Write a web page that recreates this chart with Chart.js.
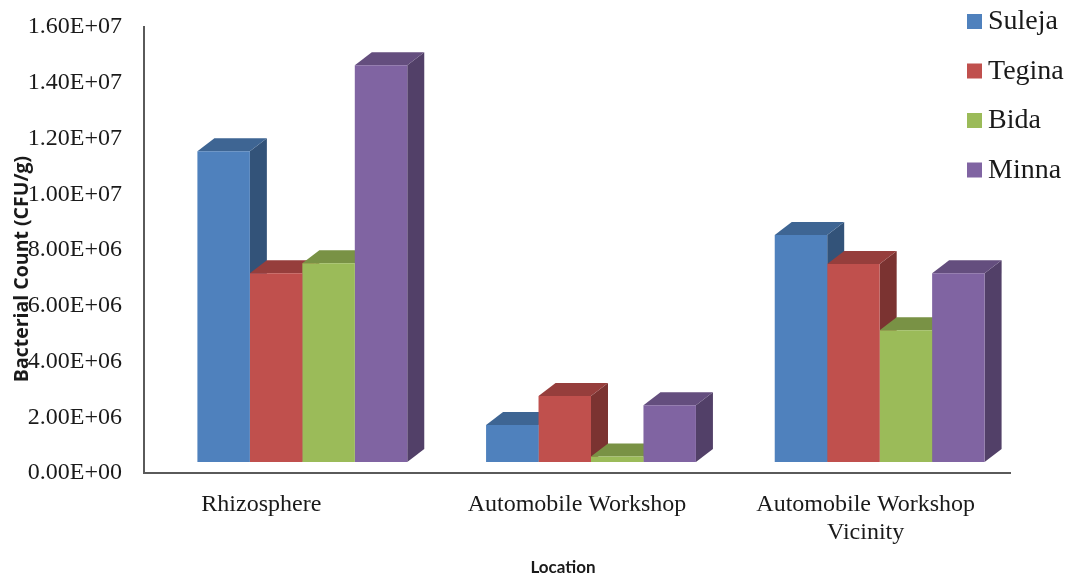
<!DOCTYPE html>
<html>
<head>
<meta charset="utf-8">
<script src="https://cdn.jsdelivr.net/npm/chart.js@4.4.1/dist/chart.umd.min.js"></script>
<style>
  html, body { margin: 0; padding: 0; background: #ffffff; }
  #wrap { width: 1076px; height: 581px; }
</style>
</head>
<body>
<div id="wrap"><canvas id="chart" width="1076" height="581"></canvas></div>
<script>
// Bacterial counts (CFU/g) by sampling location and town
const categories = ['Rhizosphere         ', 'Automobile Workshop', ['Automobile Workshop', 'Vicinity']];
const towns = ['Suleja', 'Tegina', 'Bida', 'Minna'];
const suleja = [1.115e7, 1.33e6, 8.14e6];
const tegina = [6.77e6, 2.37e6, 7.10e6];
const bida   = [7.13e6, 0.20e6, 4.73e6];
const minna  = [1.423e7, 2.04e6, 6.77e6];
const yTicks = [0, 2e6, 4e6, 6e6, 8e6, 1e7, 1.2e7, 1.4e7, 1.6e7];

const seriesValues = [suleja, tegina, bida, minna];
const frontColors = ['#4F81BD', '#C0504D', '#9BBB59', '#8064A2'];

function shade(hex, f) {
  const n = parseInt(hex.slice(1), 16);
  const r = Math.round(((n >> 16) & 255) * f);
  const g = Math.round(((n >> 8) & 255) * f);
  const b = Math.round((n & 255) * f);
  return 'rgb(' + r + ',' + g + ',' + b + ')';
}

function sci(v) {
  if (v === 0) return '0.00E+00';
  const e = Math.floor(Math.log10(v) + 1e-9);
  const m = v / Math.pow(10, e);
  return m.toFixed(2) + 'E+' + String(e).padStart(2, '0');
}

// oblique projection: gap between the axis plane and the bar fronts, and bar depth
const GAP = { dx: 14, dy: 11 };
const DEPTH = { dx: 17, dy: 13 };

const columns3d = {
  id: 'columns3d',
  beforeDatasetsDraw(chart) {
    const ctx = chart.ctx;
    ctx.save();
    ctx.translate(GAP.dx, -GAP.dy);
    chart.data.datasets.forEach((ds, di) => {
      const meta = chart.getDatasetMeta(di);
      if (meta.hidden) return;
      meta.data.forEach((bar) => {
        const { x, y, base, width } = bar.getProps(['x', 'y', 'base', 'width'], true);
        const l = x - width / 2, r = x + width / 2;
        const top = Math.min(y, base), bot = Math.max(y, base);
        // right side face
        ctx.fillStyle = shade(frontColors[di], 0.64);
        ctx.beginPath();
        ctx.moveTo(r, top);
        ctx.lineTo(r + DEPTH.dx, top - DEPTH.dy);
        ctx.lineTo(r + DEPTH.dx, bot - DEPTH.dy);
        ctx.lineTo(r, bot);
        ctx.closePath();
        ctx.fill();
        // top face
        ctx.fillStyle = shade(frontColors[di], 0.78);
        ctx.beginPath();
        ctx.moveTo(l, top);
        ctx.lineTo(l + DEPTH.dx, top - DEPTH.dy);
        ctx.lineTo(r + DEPTH.dx, top - DEPTH.dy);
        ctx.lineTo(r, top);
        ctx.closePath();
        ctx.fill();
      });
    });
    // stays translated so the library draws the front faces in the same plane
  },
  afterDatasetsDraw(chart) {
    chart.ctx.restore();
  }
};

const sideLegendAndTitles = {
  id: 'sideLegendAndTitles',
  afterDraw(chart) {
    const ctx = chart.ctx;
    ctx.save();
    // legend
    ctx.font = '28px "Liberation Serif", "Times New Roman", serif';
    ctx.textBaseline = 'middle';
    ctx.textAlign = 'left';
    towns.forEach((name, i) => {
      const cy = 21 + i * 49.5;
      ctx.fillStyle = frontColors[i];
      ctx.fillRect(967, cy - 7, 15, 15);
      ctx.fillStyle = '#1a1a1a';
      ctx.fillText(name, 988, cy + 1);
    });
    // axis titles
    ctx.fillStyle = '#1a1a1a';
    ctx.font = 'bold 17px Lato, "Open Sans", sans-serif';
    ctx.textAlign = 'center';
    ctx.fillText('Location', 563, 568);
    ctx.translate(22, 269);
    ctx.rotate(-Math.PI / 2);
    ctx.font = 'bold 19.5px "Open Sans", Lato, sans-serif';
    ctx.fillText('Bacterial Count (CFU/g)', 0, 0);
    ctx.restore();
  }
};

new Chart(document.getElementById('chart'), {
  type: 'bar',
  data: {
    labels: categories,
    datasets: towns.map((name, i) => ({
      label: name,
      data: seriesValues[i],
      backgroundColor: frontColors[i],
      borderWidth: 0,
      barPercentage: 1.0,
      categoryPercentage: 0.727
    }))
  },
  options: {
    responsive: false,
    animation: false,
    devicePixelRatio: 1,
    layout: { padding: { left: 0, right: 66, top: 27, bottom: 0 } },
    plugins: {
      legend: { display: false },
      tooltip: { enabled: false }
    },
    scales: {
      x: {
        grid: { display: false, drawTicks: false },
        border: { display: true, color: '#5a5a5a', width: 2 },
        ticks: {
          color: '#1a1a1a',
          padding: 17,
          maxRotation: 0,
          autoSkip: false,
          font: { family: '"Liberation Serif", "Times New Roman", serif', size: 24 }
        },
        afterFit(scale) { scale.height = 108; }
      },
      y: {
        min: 0,
        max: 1.6e7,
        grid: { display: false, drawTicks: false },
        border: { display: true, color: '#5a5a5a', width: 2 },
        afterBuildTicks(scale) { scale.ticks = yTicks.map(v => ({ value: v })); },
        ticks: {
          color: '#1a1a1a',
          padding: 22,
          callback: (v) => sci(v),
          font: { family: '"Liberation Serif", "Times New Roman", serif', size: 24 }
        },
        afterFit(scale) {
          scale.width = 144;
          scale.paddingTop = 0;
          scale.paddingBottom = 0;
        }
      }
    }
  },
  plugins: [columns3d, sideLegendAndTitles]
});
</script>
</body>
</html>
